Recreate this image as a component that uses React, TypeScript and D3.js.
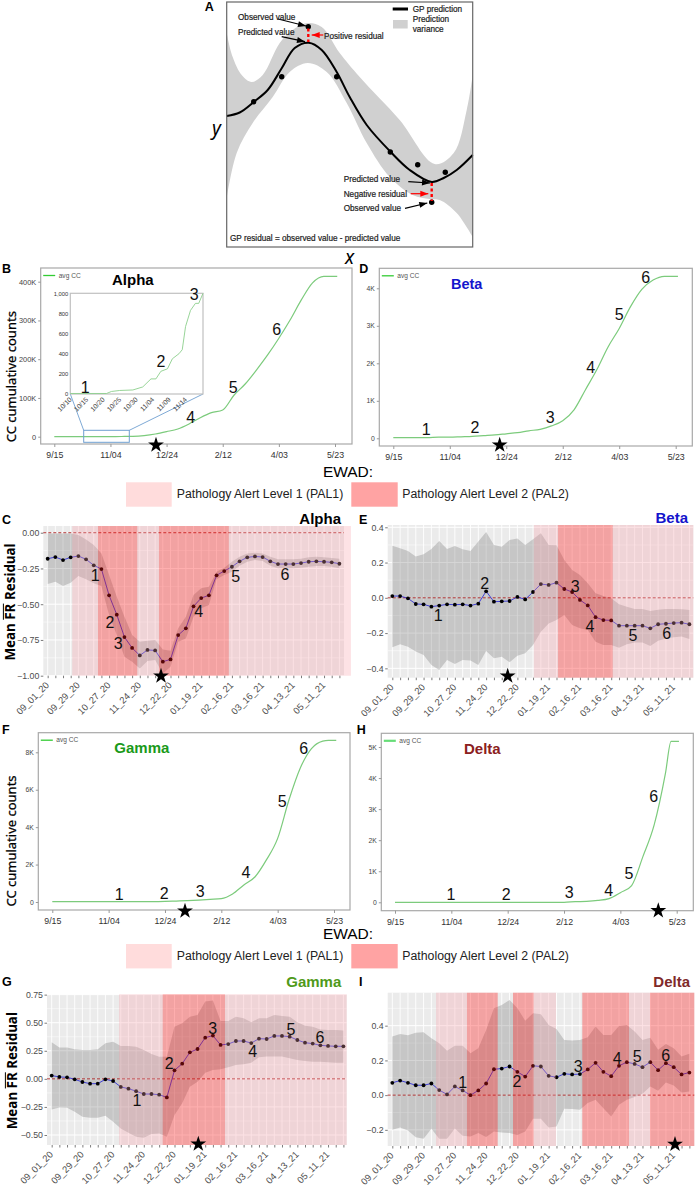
import { useEffect, useRef } from "react";
import * as d3 from "d3";

// CC cumulative counts, in thousands, read every 10 days from 9/15
const ccDays = [0, 10, 20, 30, 40, 50, 60, 70, 80, 90, 100, 110, 120, 130, 140, 150, 160, 170, 180, 190, 200, 210, 220, 230, 240, 245, 250, 252];
const ccAlpha = [0, 0, 0, 0, 0, 0.2, 0.5, 1, 3, 7, 13, 20, 33, 49, 62, 69, 107, 136, 172, 211, 254, 301, 353, 397, 414, 414, 414, 414];
const ccBeta = [0.02, 0.02, 0.02, 0.02, 0.03, 0.03, 0.04, 0.05, 0.07, 0.09, 0.12, 0.15, 0.2, 0.24, 0.33, 0.47, 0.76, 1.29, 1.82, 2.43, 2.93, 3.51, 3.97, 4.22, 4.32, 4.32, 4.32, 4.32];
const ccGamma = [0.02, 0.02, 0.02, 0.02, 0.02, 0.02, 0.02, 0.02, 0.02, 0.02, 0.03, 0.05, 0.07, 0.1, 0.14, 0.18, 0.43, 0.91, 1.35, 2.25, 3.4, 5.45, 7.15, 8.2, 8.6, 8.64, 8.64, 8.64];
const ccDelta = [0, 0, 0, 0, 0, 0, 0, 0, 0, 0, 0, 0, 0, 0, 0, 0, 0.02, 0.03, 0.06, 0.12, 0.31, 0.54, 1.47, 2.49, 4.15, 5.18, 5.18, 5.18];
const ccTickDays = [0, 50, 100, 150, 200, 250];
const ccTickLabels = ["9/15", "11/04", "12/24", "2/12", "4/03", "5/23"];

// inset of panel B, days from 10/10
const insetDays = [0, 11, 12.5, 15, 19, 22, 24.5, 26, 27.5, 29.5, 31, 33, 34, 35, 36.5, 38, 39, 40.3];
const insetCounts = [5, 5, 25, 35, 40, 70, 150, 150, 225, 250, 350, 400, 440, 670, 830, 900, 900, 1000];
const insetTickDays = [0, 5, 10, 15, 20, 25, 30, 35];
const insetTickLabels = ["10/10", "10/15", "10/20", "10/25", "10/30", "11/04", "11/09", "11/14"];

const weeks = [
  "09_01_20", "09_08_20", "09_15_20", "09_22_20", "09_29_20", "10_06_20", "10_13_20", "10_20_20", "10_27_20", "11_03_20",
  "11_10_20", "11_17_20", "11_24_20", "12_01_20", "12_08_20", "12_15_20", "12_22_20", "12_29_20", "01_05_21", "01_12_21",
  "01_19_21", "01_26_21", "02_02_21", "02_09_21", "02_16_21", "02_23_21", "03_02_21", "03_09_21", "03_16_21", "03_23_21",
  "03_30_21", "04_06_21", "04_13_21", "04_20_21", "04_27_21", "05_04_21", "05_11_21", "05_18_21", "05_25_21",
];

const alphaMean = [-0.182, -0.17, -0.191, -0.172, -0.163, -0.186, -0.228, -0.254, -0.438, -0.573, -0.73, -0.806, -0.858, -0.82, -0.823, -0.902, -0.886, -0.716, -0.669, -0.515, -0.457, -0.438, -0.298, -0.268, -0.238, -0.2, -0.172, -0.166, -0.17, -0.2, -0.219, -0.219, -0.219, -0.212, -0.203, -0.2, -0.203, -0.207, -0.217];
const alphaUpper = [-0.005, -0.005, -0.005, -0.005, -0.016, -0.047, -0.086, -0.145, -0.296, -0.448, -0.587, -0.716, -0.762, -0.755, -0.751, -0.816, -0.825, -0.669, -0.587, -0.436, -0.389, -0.378, -0.273, -0.245, -0.203, -0.168, -0.145, -0.14, -0.145, -0.168, -0.186, -0.186, -0.186, -0.182, -0.172, -0.168, -0.172, -0.177, -0.182];
const alphaLower = [-0.359, -0.343, -0.373, -0.35, -0.303, -0.326, -0.354, -0.373, -0.576, -0.716, -0.867, -0.902, -0.949, -0.897, -0.89, -0.984, -0.937, -0.762, -0.739, -0.587, -0.529, -0.506, -0.326, -0.296, -0.273, -0.231, -0.203, -0.191, -0.198, -0.231, -0.249, -0.249, -0.249, -0.245, -0.238, -0.233, -0.233, -0.238, -0.249];

const betaMean = [0.01, 0.01, -0.003, -0.035, -0.037, -0.05, -0.044, -0.037, -0.039, -0.037, -0.044, -0.033, 0.037, -0.022, -0.02, -0.018, 0.005, -0.009, 0.033, 0.078, 0.073, 0.086, 0.05, 0.033, -0.012, -0.043, -0.11, -0.126, -0.128, -0.158, -0.158, -0.158, -0.158, -0.173, -0.15, -0.147, -0.143, -0.141, -0.15];
const betaUpper = [0.296, 0.281, 0.266, 0.234, 0.247, 0.277, 0.322, 0.277, 0.294, 0.275, 0.266, 0.319, 0.373, 0.3, 0.29, 0.328, 0.336, 0.3, 0.332, 0.366, 0.3, 0.298, 0.215, 0.158, 0.13, 0.082, 0.026, 0.01, -0.003, -0.037, -0.05, -0.063, -0.063, -0.075, -0.067, -0.063, -0.063, -0.065, -0.069];
const betaLower = [-0.281, -0.264, -0.277, -0.305, -0.324, -0.381, -0.409, -0.353, -0.375, -0.353, -0.356, -0.381, -0.302, -0.343, -0.334, -0.366, -0.328, -0.315, -0.268, -0.192, -0.145, -0.126, -0.097, -0.154, -0.173, -0.183, -0.249, -0.268, -0.268, -0.283, -0.264, -0.254, -0.254, -0.273, -0.243, -0.23, -0.224, -0.22, -0.234];

const gammaMean = [0.029, 0.017, 0.014, -0.004, -0.028, -0.043, -0.043, -0.004, -0.019, -0.072, -0.087, -0.11, -0.135, -0.135, -0.141, -0.165, 0.076, 0.135, 0.236, 0.266, 0.367, 0.385, 0.302, 0.31, 0.337, 0.337, 0.319, 0.358, 0.355, 0.382, 0.382, 0.376, 0.346, 0.322, 0.314, 0.299, 0.293, 0.29, 0.29];
const gammaUpper = [0.325, 0.28, 0.28, 0.263, 0.257, 0.257, 0.263, 0.316, 0.331, 0.292, 0.292, 0.287, 0.257, 0.221, 0.197, 0.197, 0.465, 0.495, 0.554, 0.569, 0.688, 0.697, 0.515, 0.515, 0.554, 0.54, 0.503, 0.54, 0.54, 0.569, 0.56, 0.554, 0.503, 0.474, 0.465, 0.44, 0.435, 0.435, 0.43];
const gammaLower = [-0.272, -0.254, -0.257, -0.293, -0.337, -0.346, -0.346, -0.328, -0.382, -0.441, -0.48, -0.516, -0.524, -0.492, -0.486, -0.516, -0.322, -0.218, -0.07, -0.025, 0.055, 0.079, 0.085, 0.103, 0.124, 0.13, 0.144, 0.192, 0.198, 0.198, 0.198, 0.183, 0.168, 0.159, 0.153, 0.153, 0.147, 0.144, 0.144];

const deltaMean = [0.071, 0.084, 0.071, 0.057, 0.057, 0.067, 0.029, 0.004, 0.05, 0.027, 0, 0.027, 0.067, 0.149, 0.153, 0.165, 0.134, 0.107, 0.169, 0.165, 0.111, 0.103, 0.123, 0.119, 0.121, 0.148, 0.186, 0.134, 0.109, 0.169, 0.19, 0.18, 0.161, 0.19, 0.144, 0.184, 0.161, 0.119, 0.13];
const deltaUpper = [0.337, 0.352, 0.345, 0.36, 0.362, 0.328, 0.299, 0.255, 0.285, 0.284, 0.241, 0.27, 0.375, 0.5, 0.519, 0.548, 0.5, 0.429, 0.471, 0.466, 0.404, 0.381, 0.318, 0.314, 0.318, 0.333, 0.395, 0.347, 0.347, 0.398, 0.404, 0.366, 0.318, 0.331, 0.261, 0.295, 0.27, 0.222, 0.238];
const deltaLower = [-0.199, -0.186, -0.203, -0.243, -0.251, -0.193, -0.251, -0.251, -0.192, -0.234, -0.238, -0.218, -0.241, -0.209, -0.215, -0.218, -0.23, -0.209, -0.136, -0.136, -0.186, -0.18, -0.079, -0.08, -0.084, -0.046, -0.027, -0.075, -0.123, -0.056, -0.027, -0.011, 0.008, 0.05, 0.025, 0.073, 0.056, 0.015, 0.021];

// alert periods, in week indexes: [from, to, level]
type Band = [number, number, number];
const alphaBands: Band[] = [[3.2, 6.56, 1], [6.56, 11.68, 2], [11.68, 14.5, 1], [14.5, 23.6, 2], [23.6, 39.5, 1]];
const betaBands: Band[] = [[18.1, 21.2, 1], [21.2, 28.2, 2], [28.2, 38.5, 1]];
const gammaBands: Band[] = [[8.77, 14.46, 1], [14.46, 22.58, 2], [22.58, 38.43, 1]];
const deltaBands: Band[] = [[5.59, 9.55, 1], [9.55, 13.48, 2], [15.44, 18.08, 2], [18.08, 20.94, 1], [24.3, 30.28, 2], [30.28, 32.96, 1], [32.96, 38.63, 2]];

// panel A, schematic GP fit
const gpMeanX = [0, 13, 27, 41, 55, 68, 82, 95, 110, 123, 140, 164, 183, 205, 217, 230, 246];
const gpMeanY = [131, 134.5, 145, 157, 178.7, 199, 204.3, 197, 175, 150, 122, 95, 77, 65, 69, 77, 92];
const gpUpperX = [0, 6, 15, 25, 36, 53, 66, 81, 95, 113, 133, 173, 208, 227, 240, 246];
const gpUpperY = [214, 190, 172, 165, 172, 204, 217, 224, 220, 194, 170, 127, 83, 94, 137, 172];
const gpLowerX = [0, 10, 26, 46, 63, 81, 100, 120, 140, 163, 186, 203, 213, 230, 246];
const gpLowerY = [49, 94, 124, 150, 175, 184, 175, 144, 104, 70, 52, 48, 47, 34, 10];
const gpObsX = [27, 55, 81.6, 110, 163.6, 191, 205, 218.6];
const gpObsY = [145.3, 170.3, 220.3, 170.3, 95, 82.3, 44.7, 74.7];

const FONT = "'Liberation Sans', Arial, sans-serif";
const W = 697;
const H = 1186;

type Sel = d3.Selection<any, any, any, any>;

function put(g: Sel, str: string, x: number, y: number, size: number, opts: any = {}) {
  const t = g
    .append("text")
    .attr("x", x)
    .attr("y", y)
    .attr("font-family", opts.family || FONT)
    .attr("font-size", size)
    .attr("fill", opts.fill || "#000")
    .text(str);
  if (opts.bold) t.attr("font-weight", "bold");
  if (opts.italic) t.attr("font-style", "italic");
  if (opts.anchor) t.attr("text-anchor", opts.anchor);
  if (opts.stroke) t.attr("stroke", opts.fill || "#000").attr("stroke-width", opts.stroke);
  if (opts.rotate !== undefined) t.attr("transform", `rotate(${opts.rotate},${x},${y})`);
  return t;
}

function star(g: Sel, x: number, y: number) {
  g.append("path")
    .attr("d", d3.symbol(d3.symbolStar, 78)())
    .attr("transform", `translate(${x},${y})`)
    .attr("fill", "#000");
}

function numbers(g: Sel, marks: number[][]) {
  marks.forEach((m, i) => {
    put(g, String(i + 1), m[0], m[1] + 5.8, 16, { anchor: "middle", fill: "#111" });
  });
}

function arrow(g: Sel, x1: number, y1: number, x2: number, y2: number, color: string) {
  g.append("line")
    .attr("x1", x1)
    .attr("y1", y1)
    .attr("x2", x2)
    .attr("y2", y2)
    .attr("stroke", color)
    .attr("stroke-width", 1.2);
  const a = Math.atan2(y2 - y1, x2 - x1);
  const len = 8;
  const w = 3;
  const bx = x2 - len * Math.cos(a);
  const by = y2 - len * Math.sin(a);
  g.append("path")
    .attr(
      "d",
      `M${x2},${y2}L${bx - w * Math.sin(a)},${by + w * Math.cos(a)}L${bx + w * Math.sin(a)},${by - w * Math.cos(a)}Z`
    )
    .attr("fill", color);
}

function drawGp(g: Sel) {
  const left = 226.7;
  const right = 472.7;
  const top = 2;
  const bottom = 247;
  const x = d3.scaleLinear().domain([0, 246]).range([left, right]);
  const y = d3.scaleLinear().domain([0, 245]).range([bottom, top]);
  const curve = d3
    .line<[number, number]>()
    .x((d) => x(d[0]))
    .y((d) => y(d[1]))
    .curve(d3.curveCatmullRom);

  const upper = curve(gpUpperX.map((v, i) => [v, gpUpperY[i]]));
  const lower = curve(gpLowerX.map((v, i) => [v, gpLowerY[i]]).reverse() as [number, number][]);

  g.append("rect")
    .attr("x", left)
    .attr("y", top)
    .attr("width", right - left)
    .attr("height", bottom - top)
    .attr("fill", "#fff");
  g.append("path")
    .attr("d", `${upper}${(lower as string).replace(/^M/, "L")}Z`)
    .attr("fill", "#d0d0d0");
  g.append("path")
    .attr("d", curve(gpMeanX.map((v, i) => [v, gpMeanY[i]])))
    .attr("fill", "none")
    .attr("stroke", "#000")
    .attr("stroke-width", 2);
  g.selectAll(".obs")
    .data(gpObsX)
    .enter()
    .append("circle")
    .attr("cx", (d) => x(d))
    .attr("cy", (d, i) => y(gpObsY[i]))
    .attr("r", 2.7)
    .attr("fill", "#000");
  g.append("rect")
    .attr("x", left)
    .attr("y", top)
    .attr("width", right - left)
    .attr("height", bottom - top)
    .attr("fill", "none")
    .attr("stroke", "#666")
    .attr("stroke-width", 1.2);

  // residual bars
  [[308.3, 28.5, 42], [431.7, 183, 201]].forEach((r) => {
    g.append("line")
      .attr("x1", r[0])
      .attr("x2", r[0])
      .attr("y1", r[1])
      .attr("y2", r[2])
      .attr("stroke", "#ff0000")
      .attr("stroke-width", 2.4)
      .attr("stroke-dasharray", "3,2.5");
  });
  arrow(g, 278, 19, 306, 26, "#000");
  arrow(g, 281.7, 36.7, 305, 41.7, "#000");
  arrow(g, 323.3, 35, 311.7, 35, "#ff0000");
  arrow(g, 408.3, 181.7, 430, 183, "#000");
  arrow(g, 410.7, 193.7, 428.3, 193.7, "#ff0000");
  arrow(g, 405, 208.3, 427.3, 203, "#000");

  const note = { fill: "#222", stroke: 0.2 };
  put(g, "Observed value", 238, 20, 8.2, note);
  put(g, "Predicted value", 238, 34.7, 8.2, note);
  put(g, "Positive residual", 324, 38.7, 8.2, note);
  put(g, "Predicted value", 343.7, 182, 8.2, note);
  put(g, "Negative residual", 343.7, 196.7, 8.2, note);
  put(g, "Observed value", 343.7, 211, 8.2, note);
  put(g, "GP residual = observed value - predicted value", 230, 241, 8.2, note);
  put(g, "GP prediction", 412.7, 12, 8.2, note);
  put(g, "Prediction", 412.7, 22.3, 8.2, note);
  put(g, "variance", 412.7, 32, 8.2, note);
  g.append("line")
    .attr("x1", 392.7)
    .attr("x2", 408)
    .attr("y1", 9)
    .attr("y2", 9)
    .attr("stroke", "#000")
    .attr("stroke-width", 3);
  g.append("rect")
    .attr("x", 393)
    .attr("y", 20)
    .attr("width", 14.7)
    .attr("height", 8.5)
    .attr("fill", "#d0d0d0");
  put(g, "y", 212, 135, 19, { italic: true, family: "'Noto Sans', sans-serif" });
  put(g, "x", 345, 264, 19, { italic: true, family: "'Noto Sans', sans-serif" });
}

interface CcPanel {
  box: [number, number, number, number];
  x0: number;
  x1: number;
  y0: number;
  yTop: number;
  yTopValue: number;
  ticks: number[];
  values: number[];
  legendWidth: number;
  legendColor: string;
  tickFont: number;
}

function drawCc(g: Sel, p: CcPanel) {
  const [left, top, right, bottom] = p.box;
  const x = d3.scaleLinear().domain([0, 250]).range([p.x0, p.x1]);
  const y = d3.scaleLinear().domain([0, p.yTopValue]).range([p.y0, p.yTop]);

  g.append("rect")
    .attr("x", left)
    .attr("y", top)
    .attr("width", right - left)
    .attr("height", bottom - top)
    .attr("fill", "#fff")
    .attr("stroke", "#a8a8a8")
    .attr("stroke-width", 1.2);

  const line = d3
    .line<number>()
    .x((d, i) => x(ccDays[i]))
    .y((d) => y(d))
    .curve(d3.curveMonotoneX);
  g.append("path")
    .attr("d", line(p.values))
    .attr("fill", "none")
    .attr("stroke", "#7ccb7c")
    .attr("stroke-width", 1.2);

  const xAxis = g
    .append("g")
    .attr("transform", `translate(0,${bottom})`)
    .call(
      d3
        .axisBottom(x)
        .tickValues(ccTickDays)
        .tickFormat((d, i) => ccTickLabels[i])
        .tickSize(3)
        .tickPadding(5)
    );
  xAxis.select(".domain").remove();
  xAxis.selectAll("line").attr("stroke", "#999");
  xAxis
    .selectAll("text")
    .attr("font-family", FONT)
    .attr("font-size", 8.8)
    .attr("fill", "#333");

  const yAxis = g
    .append("g")
    .attr("transform", `translate(${left},0)`)
    .call(
      d3
        .axisLeft(y)
        .tickValues(p.ticks)
        .tickFormat((d) => (+d === 0 ? "0" : `${d}K`))
        .tickSize(2.5)
        .tickPadding(2)
    );
  yAxis.select(".domain").remove();
  yAxis.selectAll("line").attr("stroke", "#999");
  yAxis
    .selectAll("text")
    .attr("font-family", FONT)
    .attr("font-size", p.tickFont)
    .attr("fill", "#444");

  g.append("line")
    .attr("x1", left + 2.5)
    .attr("x2", left + 14.5)
    .attr("y1", top + 7.5)
    .attr("y2", top + 7.5)
    .attr("stroke", p.legendColor)
    .attr("stroke-width", p.legendWidth);
  put(g, "avg CC", left + 18, top + 9.5, 6.6, { fill: "#555" });
}

function drawInset(g: Sel) {
  const left = 70.3;
  const right = 203;
  const top = 293.3;
  const bottom = 394;
  const x = d3.scaleLinear().domain([0, 40.3]).range([left, right]);
  const y = d3.scaleLinear().domain([0, 1000]).range([bottom, top]);

  // zoom box on the main curve and its leaders
  const zoomLeft = 83.7;
  const zoomRight = 129.3;
  const zoomTop = 430.3;
  const zoomBottom = 442.3;
  g.append("rect")
    .attr("x", zoomLeft)
    .attr("y", zoomTop)
    .attr("width", zoomRight - zoomLeft)
    .attr("height", zoomBottom - zoomTop)
    .attr("fill", "none")
    .attr("stroke", "#6f9fd0")
    .attr("stroke-width", 1);
  [[left, zoomLeft], [right, zoomRight]].forEach((d) => {
    g.append("line")
      .attr("x1", d[0])
      .attr("y1", bottom)
      .attr("x2", d[1])
      .attr("y2", zoomTop)
      .attr("stroke", "#6f9fd0")
      .attr("stroke-width", 0.9);
  });

  g.append("rect")
    .attr("x", left)
    .attr("y", top)
    .attr("width", right - left)
    .attr("height", bottom - top)
    .attr("fill", "#fff")
    .attr("stroke", "#c0c0c0")
    .attr("stroke-width", 1.2);
  g.append("path")
    .attr(
      "d",
      d3
        .line<number>()
        .x((d, i) => x(insetDays[i]))
        .y((d) => y(d))(insetCounts)
    )
    .attr("fill", "none")
    .attr("stroke", "#8ccf8c")
    .attr("stroke-width", 0.9);

  const yAxis = g
    .append("g")
    .attr("transform", `translate(${left},0)`)
    .call(d3.axisLeft(y).tickValues([0, 200, 400, 600, 800, 1000]).tickSize(0).tickPadding(2));
  yAxis.select(".domain").remove();
  yAxis.selectAll("text").attr("font-family", FONT).attr("font-size", 5.8).attr("fill", "#333");

  insetTickDays.forEach((d, i) => {
    put(g, insetTickLabels[i], x(d) + 2, bottom + 6, 6.8, { anchor: "end", rotate: -45, fill: "#444" });
  });
}

interface ResidualPanel {
  panel: [number, number, number, number];
  xDomain: [number, number];
  yDomain: [number, number];
  yTicks: number[];
  yFormat: string;
  mean: number[];
  upper: number[];
  lower: number[];
  bands: Band[];
}

function drawResidual(g: Sel, p: ResidualPanel) {
  const [left, top, right, bottom] = p.panel;
  const x = d3.scaleLinear().domain(p.xDomain).range([left, right]);
  const y = d3.scaleLinear().domain(p.yDomain).range([bottom, top]);

  g.append("rect")
    .attr("x", left)
    .attr("y", top)
    .attr("width", right - left)
    .attr("height", bottom - top)
    .attr("fill", "#ebebeb");

  // grid
  const step = p.yTicks[1] - p.yTicks[0];
  const minor = p.yTicks.map((d) => d + step / 2).filter((d) => y(d) > top && y(d) < bottom);
  g.selectAll(".hminor")
    .data(minor)
    .enter()
    .append("line")
    .attr("x1", left)
    .attr("x2", right)
    .attr("y1", (d) => y(d))
    .attr("y2", (d) => y(d))
    .attr("stroke", "#fff")
    .attr("stroke-width", 0.5);
  g.selectAll(".hmajor")
    .data(p.yTicks)
    .enter()
    .append("line")
    .attr("x1", left)
    .attr("x2", right)
    .attr("y1", (d) => y(d))
    .attr("y2", (d) => y(d))
    .attr("stroke", "#fff")
    .attr("stroke-width", 1);
  g.selectAll(".vmajor")
    .data(weeks)
    .enter()
    .append("line")
    .attr("x1", (d, i) => x(i))
    .attr("x2", (d, i) => x(i))
    .attr("y1", top)
    .attr("y2", bottom)
    .attr("stroke", "#fff")
    .attr("stroke-width", 0.9);

  const area = d3
    .area<number>()
    .x((d, i) => x(i))
    .y0((d, i) => y(p.lower[i]))
    .y1((d, i) => y(p.upper[i]));
  g.append("path").attr("d", area(p.mean)).attr("fill", "#333").attr("opacity", 0.2);

  g.append("line")
    .attr("x1", left)
    .attr("x2", right)
    .attr("y1", y(0))
    .attr("y2", y(0))
    .attr("stroke", "#a82020")
    .attr("stroke-width", 0.9)
    .attr("stroke-dasharray", "3,2");

  const line = d3
    .line<number>()
    .x((d, i) => x(i))
    .y((d) => y(d));
  g.append("path")
    .attr("d", line(p.mean))
    .attr("fill", "none")
    .attr("stroke", "#2020d8")
    .attr("stroke-width", 0.8);
  g.selectAll(".pt")
    .data(p.mean)
    .enter()
    .append("circle")
    .attr("cx", (d, i) => x(i))
    .attr("cy", (d) => y(d))
    .attr("r", 1.9)
    .attr("fill", "#000");

  // alert bands go over everything, the points turn dark red through them
  g.selectAll(".band")
    .data(p.bands)
    .enter()
    .append("rect")
    .attr("x", (d) => x(d[0]))
    .attr("y", top)
    .attr("width", (d) => x(d[1]) - x(d[0]))
    .attr("height", bottom - top)
    .attr("fill", (d) => (d[2] === 2 ? "#ff1414" : "#f8a0a8"))
    .attr("opacity", (d) => (d[2] === 2 ? 0.34 : 0.3));

  const xAxis = g
    .append("g")
    .attr("transform", `translate(0,${bottom})`)
    .call(
      d3
        .axisBottom(x)
        .tickValues(d3.range(weeks.length))
        .tickFormat(() => "")
        .tickSize(2.5)
    );
  xAxis.select(".domain").remove();
  xAxis.selectAll("line").attr("stroke", "#444").attr("stroke-width", 0.7);
  weeks.forEach((w, i) => {
    if (i % 4 === 0) {
      put(g, w, x(i) + 2, bottom + 10, 9.4, { anchor: "end", rotate: -45, fill: "#4d4d4d" });
    }
  });

  const yAxis = g
    .append("g")
    .attr("transform", `translate(${left},0)`)
    .call(
      d3
        .axisLeft(y)
        .tickValues(p.yTicks)
        .tickFormat(d3.format(p.yFormat) as any)
        .tickSize(2.5)
        .tickPadding(1.5)
    );
  yAxis.select(".domain").remove();
  yAxis.selectAll("line").attr("stroke", "#444").attr("stroke-width", 0.7);
  yAxis.selectAll("text").attr("font-family", FONT).attr("font-size", 8.8).attr("fill", "#4d4d4d");
}

function meanFrLabel(g: Sel, x: number, y: number) {
  const holder = g.append("g").attr("transform", `translate(${x},${y}) rotate(-90)`);
  const t = holder
    .append("text")
    .attr("text-anchor", "middle")
    .attr("font-family", "'Noto Sans', sans-serif")
    .attr("font-size", 13.4)
    .attr("font-weight", "bold")
    .attr("fill", "#000");
  const a = t.append("tspan").text("Mean ");
  const b = t.append("tspan").text("FR");
  t.append("tspan").text(" Residual");
  // overline over FR, measured from the text itself
  const total = (t.node() as SVGTextElement).getComputedTextLength();
  const start = -total / 2 + (a.node() as SVGTSpanElement).getComputedTextLength();
  holder
    .append("line")
    .attr("x1", start)
    .attr("x2", start + (b.node() as SVGTSpanElement).getComputedTextLength())
    .attr("y1", -11.6)
    .attr("y2", -11.6)
    .attr("stroke", "#000")
    .attr("stroke-width", 1);
}

function ewadLegend(g: Sel, ewadY: number, rectTop: number, textY: number) {
  put(g, "EWAD:", 348, ewadY, 15.5, { anchor: "middle" });
  g.append("rect").attr("x", 126).attr("y", rectTop).attr("width", 45.7).attr("height", 24.4).attr("fill", "#ffdcdc");
  g.append("rect").attr("x", 351.3).attr("y", rectTop).attr("width", 46.4).attr("height", 24.4).attr("fill", "#ffa3a3");
  put(g, "Pathology Alert Level 1 (PAL1)", 176.7, textY, 12.3, { fill: "#222" });
  put(g, "Pathology Alert Level 2 (PAL2)", 402.3, textY, 12.3, { fill: "#222" });
}

export default function App() {
  const svgRef = useRef<SVGSVGElement>(null);

  useEffect(() => {
    if (!svgRef.current) return;
    const svg = d3.select(svgRef.current);
    svg.selectAll("*").remove();
    const g: Sel = svg.append("g");

    drawGp(g);

    // cumulative count panels
    drawCc(g, {
      box: [40.7, 268, 352, 444],
      x0: 54.3,
      x1: 335,
      y0: 436.7,
      yTop: 281.7,
      yTopValue: 400,
      ticks: [0, 100, 200, 300, 400],
      values: ccAlpha,
      legendWidth: 1.3,
      legendColor: "#33cc33",
      tickFont: 7.4,
    });
    drawInset(g);
    drawCc(g, {
      box: [379.3, 268.3, 692.3, 446],
      x0: 393.3,
      x1: 675.7,
      y0: 438.3,
      yTop: 288.3,
      yTopValue: 4,
      ticks: [0, 1, 2, 3, 4],
      values: ccBeta,
      legendWidth: 1.3,
      legendColor: "#33cc33",
      tickFont: 6.8,
    });
    drawCc(g, {
      box: [38.3, 732.7, 350, 910],
      x0: 52.3,
      x1: 334,
      y0: 902,
      yTop: 752.3,
      yTopValue: 8,
      ticks: [0, 2, 4, 6, 8],
      values: ccGamma,
      legendWidth: 1.3,
      legendColor: "#33cc33",
      tickFont: 6.8,
    });
    drawCc(g, {
      box: [381.3, 733.3, 693.3, 910.7],
      x0: 395,
      x1: 676.7,
      y0: 902.3,
      yTop: 747,
      yTopValue: 5,
      ticks: [0, 1, 2, 3, 4, 5],
      values: ccDelta,
      legendWidth: 2.2,
      legendColor: "#66dd77",
      tickFont: 6.8,
    });

    // residual panels
    drawResidual(g, {
      panel: [43.3, 526, 344, 675.7],
      xDomain: [-0.57, 38.6],
      yDomain: [-1, 0.047],
      yTicks: [-1, -0.75, -0.5, -0.25, 0],
      yFormat: ".2f",
      mean: alphaMean,
      upper: alphaUpper,
      lower: alphaLower,
      bands: alphaBands,
    });
    drawResidual(g, {
      panel: [387.7, 525, 693.3, 677.7],
      xDomain: [-0.59, 38.5],
      yDomain: [-0.453, 0.413],
      yTicks: [-0.4, -0.2, 0, 0.2, 0.4],
      yFormat: ".1f",
      mean: betaMean,
      upper: betaUpper,
      lower: betaLower,
      bands: betaBands,
    });
    drawResidual(g, {
      panel: [47, 994.3, 346.7, 1145],
      xDomain: [-0.61, 38.43],
      yDomain: [-0.589, 0.753],
      yTicks: [-0.5, -0.25, 0, 0.25, 0.5, 0.75],
      yFormat: ".2f",
      mean: gammaMean,
      upper: gammaUpper,
      lower: gammaLower,
      bands: gammaBands,
    });
    drawResidual(g, {
      panel: [387.7, 992.7, 694.3, 1146],
      xDomain: [-0.59, 38.63],
      yDomain: [-0.293, 0.59],
      yTicks: [-0.2, 0, 0.2, 0.4],
      yFormat: ".1f",
      mean: deltaMean,
      upper: deltaUpper,
      lower: deltaLower,
      bands: deltaBands,
    });

    // stage numbers
    numbers(g, [[85.3, 386.7], [161, 360.7], [194.3, 293.7], [190.7, 416.7], [233.3, 386.7], [276.7, 329]]);
    numbers(g, [[426.3, 428.7], [475, 426.7], [550.3, 416.7], [590.7, 366.7], [619.3, 314.3], [645.7, 276.7]]);
    numbers(g, [[119.3, 894.3], [164.3, 893], [200.3, 890.7], [246, 872], [282.3, 800.7], [303.7, 748]]);
    numbers(g, [[451, 893.7], [506.3, 893.7], [569.3, 892], [608.7, 889.7], [629, 873.3], [653.7, 796.3]]);
    numbers(g, [[95.3, 575], [110, 622], [118.3, 643.3], [198.7, 610.7], [235.7, 576.3], [285, 574]]);
    numbers(g, [[438.3, 615], [484.7, 583.3], [575.3, 585.7], [590, 626], [633, 635], [666.7, 632.7]]);
    numbers(g, [[137, 1100.3], [169.3, 1062.7], [212.7, 1028], [252.7, 1050.7], [291, 1029], [320, 1037.3]]);
    numbers(g, [[462.7, 1082], [517, 1081], [578.3, 1066.3], [617.3, 1057.7], [637.3, 1056], [665.7, 1054.7]]);

    // emergence stars
    star(g, 156, 445);
    star(g, 499.7, 445);
    star(g, 185, 911);
    star(g, 658.3, 910.7);
    star(g, 161, 676);
    star(g, 507.7, 676);
    star(g, 198.3, 1144);
    star(g, 675, 1144.3);

    // titles
    const bold = { bold: true };
    put(g, "Alpha", 112, 285.3, 15, bold);
    put(g, "Beta", 451, 289, 14.5, { ...bold, fill: "#1414cc" });
    put(g, "Gamma", 114.3, 753.3, 15, { ...bold, fill: "#1a9a1a" });
    put(g, "Delta", 464, 754, 15, { ...bold, fill: "#8b2020" });
    put(g, "Alpha", 341, 524, 15, { ...bold, anchor: "end" });
    put(g, "Beta", 688, 523, 15, { ...bold, anchor: "end", fill: "#1414cc" });
    put(g, "Gamma", 341.3, 987.3, 15, { ...bold, anchor: "end", fill: "#4f9a1a" });
    put(g, "Delta", 690, 987, 15, { ...bold, anchor: "end", fill: "#7f2a2a" });

    // panel letters
    const letters: [string, number, number][] = [
      ["A", 204.7, 11],
      ["B", 2, 272.7],
      ["D", 359.3, 272.7],
      ["C", 2, 524],
      ["E", 359, 524],
      ["F", 2, 734],
      ["H", 356.7, 734],
      ["G", 2, 986],
      ["I", 359, 986],
    ];
    letters.forEach((l) => put(g, l[0], l[1], l[2], 12.5, bold));

    // axis titles
    const sideTitle = { anchor: "middle", rotate: -90, family: "'Noto Sans', sans-serif", stroke: 0.25 };
    put(g, "CC cumulative counts", 16, 376.7, 13, sideTitle);
    put(g, "CC cumulative counts", 16, 841, 13, sideTitle);
    meanFrLabel(g, 15, 602);
    meanFrLabel(g, 17, 1070.7);

    ewadLegend(g, 476.7, 482.3, 497.7);
    ewadLegend(g, 938.5, 944, 960);
  }, []);

  return (
    <svg
      ref={svgRef}
      width={W}
      height={H}
      style={{ position: "absolute", left: 0, top: 0, display: "block", background: "#fff" }}
    />
  );
}
